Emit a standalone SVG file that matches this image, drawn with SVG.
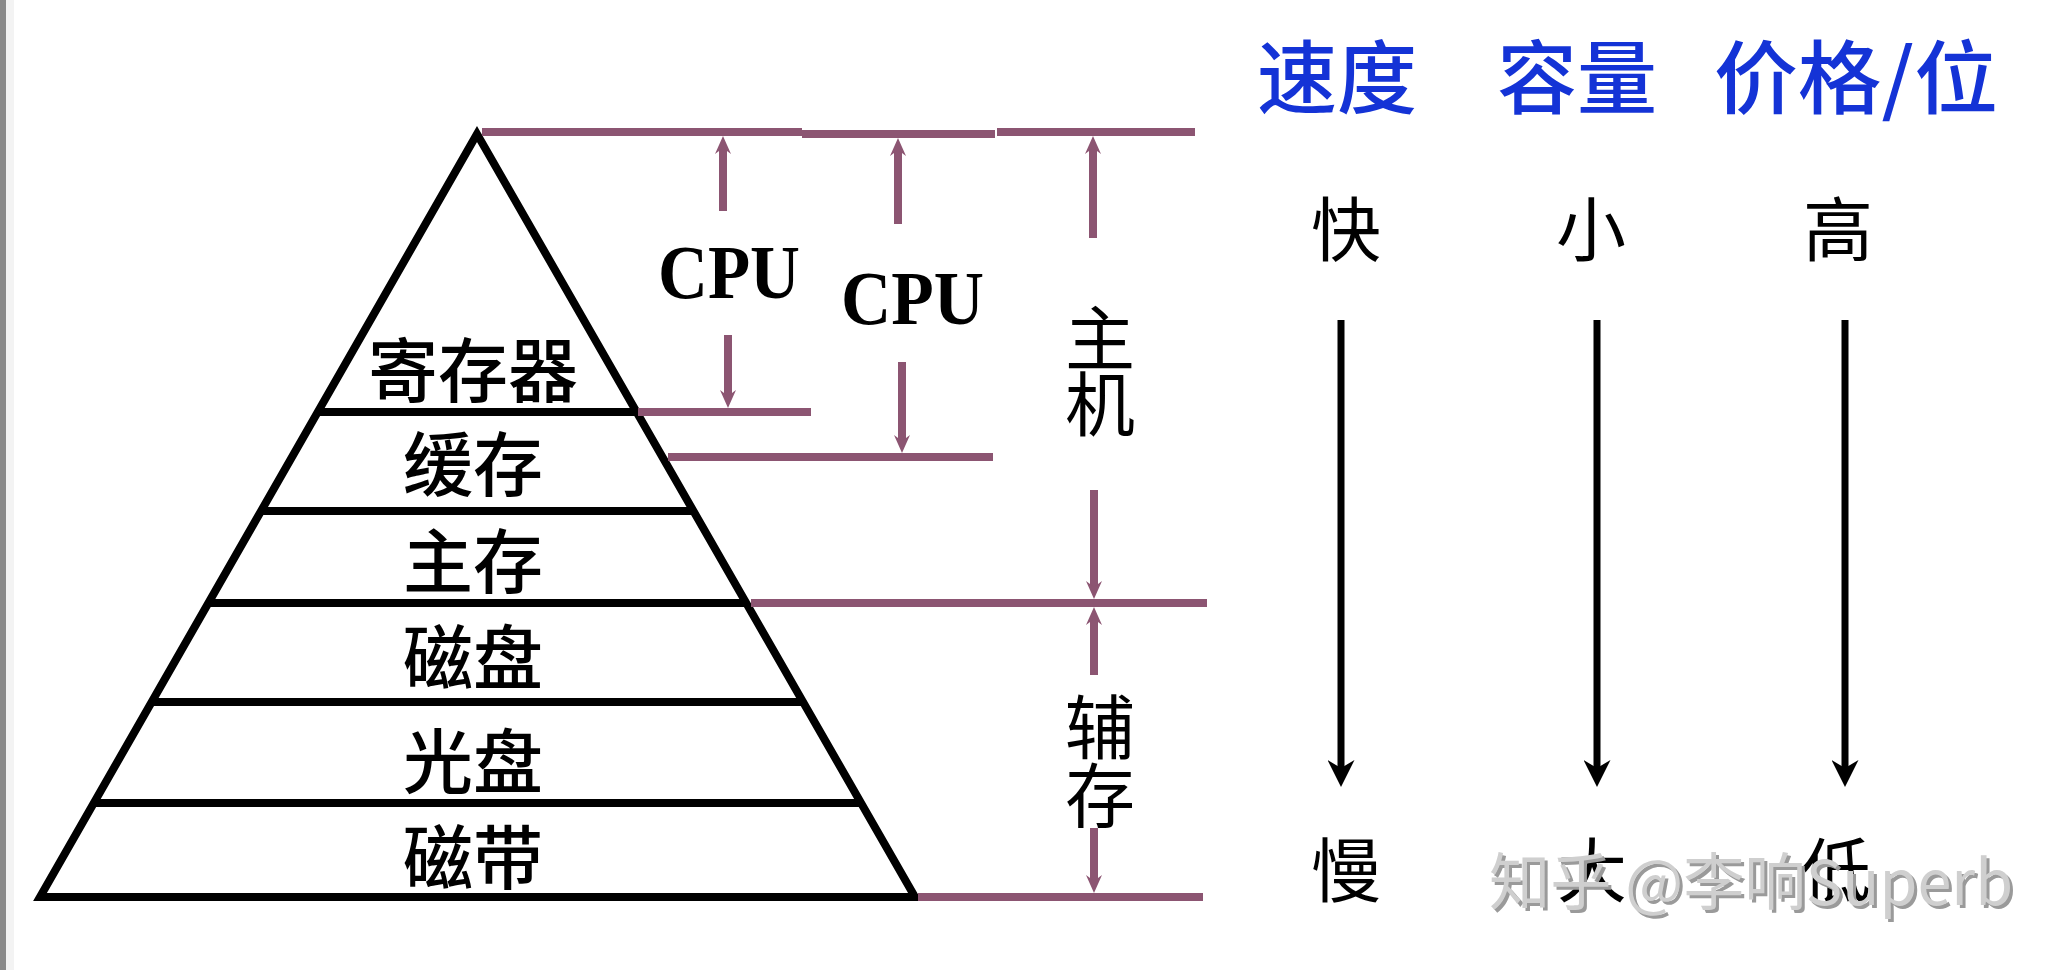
<svg xmlns="http://www.w3.org/2000/svg" width="2066" height="970" viewBox="0 0 2066 970">
<style>
.cjk{font-family:"Noto Sans CJK SC","Noto Sans",sans-serif;dominant-baseline:central;text-anchor:middle}
.lab{font-size:70px;font-weight:500;fill:#000}
.side{font-size:70px;font-weight:400;fill:#000}
.head{font-size:80px;font-weight:500;fill:#1433d6}
.cpu{font-family:"Liberation Serif","Times New Roman",serif;font-weight:bold;font-size:76px;fill:#000}
.pl{stroke:#8c5572;stroke-width:8;fill:none}
.pa{stroke:#8c5572;stroke-width:8;fill:none;marker-end:url(#pm)}
.ba{stroke:#000;stroke-width:7;fill:none;marker-end:url(#bm)}
.blk{stroke:#000;stroke-width:8;fill:none}
.wm{font-family:"Noto Sans CJK SC","Noto Sans",sans-serif;font-size:62px;dominant-baseline:central}
</style>
<defs>
<marker id="pm" markerUnits="userSpaceOnUse" viewBox="0 0 18 16" markerWidth="18" markerHeight="16" refX="8" refY="8" orient="auto">
<path d="M0,0 L18,8 L0,16 L6,8 z" fill="#8c5572"/>
</marker>
<marker id="bm" markerUnits="userSpaceOnUse" viewBox="0 0 27 27" markerWidth="27" markerHeight="27" refX="12" refY="13.5" orient="auto">
<path d="M0,0 L27,13.5 L0,27 L8,13.5 z" fill="#000"/>
</marker>
</defs>
<rect x="0" y="0" width="2066" height="970" fill="#fff"/>
<rect x="0" y="0" width="6" height="970" fill="#8a8a8a"/>
<rect x="6" y="0" width="8" height="970" fill="#f3f3f3"/>

<g id="pyramid">
<polygon class="blk" points="477,134 40,897 915,897" stroke-linejoin="miter"/>
<line class="blk" x1="318" y1="412" x2="637" y2="412"/>
<line class="blk" x1="261" y1="511" x2="693" y2="511"/>
<line class="blk" x1="208" y1="603" x2="746" y2="603"/>
<line class="blk" x1="152" y1="702" x2="803" y2="702"/>
<line class="blk" x1="94" y1="803" x2="861" y2="803"/>
</g>
<g id="n-register"><text class="cjk lab" x="473" y="366">寄存器</text></g>
<g id="n-cache"><text class="cjk lab" x="473" y="460">缓存</text></g>
<g id="n-main"><text class="cjk lab" x="473" y="557">主存</text></g>
<g id="n-disk"><text class="cjk lab" x="473" y="653">磁盘</text></g>
<g id="n-optical"><text class="cjk lab" x="473" y="757">光盘</text></g>
<g id="n-tape"><text class="cjk lab" x="473" y="853">磁带</text></g>

<g id="connectors">
<line class="pl" x1="482" y1="132" x2="802" y2="132"/>
<line class="pl" x1="802" y1="134" x2="995" y2="134"/>
<line class="pl" x1="997" y1="132" x2="1195" y2="132"/>
<line class="pl" x1="638" y1="412" x2="811" y2="412"/>
<line class="pl" x1="668" y1="457" x2="993" y2="457"/>
<line class="pl" x1="751" y1="603" x2="1207" y2="603"/>
<line class="pl" x1="918" y1="897" x2="1203" y2="897"/>
<line class="pa" x1="723" y1="211" x2="723" y2="146"/>
<line class="pa" x1="728" y1="335" x2="728" y2="398"/>
<line class="pa" x1="898" y1="224" x2="898" y2="148"/>
<line class="pa" x1="902" y1="362" x2="902" y2="443"/>
<line class="pa" x1="1093" y1="238" x2="1093" y2="146"/>
<line class="pa" x1="1094" y1="490" x2="1094" y2="589"/>
<line class="pa" x1="1094" y1="675" x2="1094" y2="617"/>
<line class="pa" x1="1094" y1="828" x2="1094" y2="883"/>
<line class="ba" x1="1341" y1="320" x2="1341" y2="772"/>
<line class="ba" x1="1597" y1="320" x2="1597" y2="772"/>
<line class="ba" x1="1845" y1="320" x2="1845" y2="772"/>
</g>

<g id="n-cpu1"><text class="cpu" x="658" y="298" textLength="142" lengthAdjust="spacingAndGlyphs">CPU</text></g>
<g id="n-cpu2"><text class="cpu" x="841" y="324" textLength="143" lengthAdjust="spacingAndGlyphs">CPU</text></g>
<g id="n-host"><text class="cjk side" x="1100" y="334">主</text><text class="cjk side" x="1100" y="400">机</text></g>
<g id="n-aux"><text class="cjk side" x="1100" y="723">辅</text><text class="cjk side" x="1100" y="791">存</text></g>

<g id="n-head-speed"><text class="cjk head" x="1337" y="72">速度</text></g>
<g id="n-head-cap"><text class="cjk head" x="1577" y="72">容量</text></g>
<g id="n-head-price"><text class="cjk head" x="1856" y="72" textLength="284" lengthAdjust="spacingAndGlyphs">价格/位</text></g>

<g id="n-fast"><text class="cjk side" x="1346" y="225">快</text></g>
<g id="n-small"><text class="cjk side" x="1591" y="225">小</text></g>
<g id="n-high"><text class="cjk side" x="1838" y="225">高</text></g>
<g id="n-slow"><text class="cjk side" x="1346" y="866">慢</text></g>
<g id="n-big"><text class="cjk side" x="1592" y="866">大</text></g>
<g id="n-low"><text class="cjk side" x="1836" y="866">低</text></g>

<g id="watermark">
<text class="wm" x="1492" y="881" fill="#9a9a9a" textLength="524" lengthAdjust="spacingAndGlyphs">知乎 @李响Superb</text>
<text class="wm" x="1489" y="878" fill="#cfcfcf" textLength="524" lengthAdjust="spacingAndGlyphs">知乎 @李响Superb</text>
</g>
</svg>
